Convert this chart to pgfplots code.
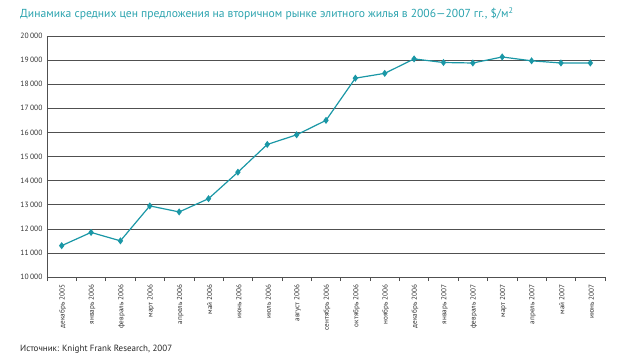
\documentclass[border=0pt]{standalone}
\usepackage{pgfplots}
\pgfplotsset{compat=1.18}
\usepackage{fontspec}
\setmainfont{PT Sans}
\definecolor{teal1}{HTML}{1A97A6}
\definecolor{titlec}{HTML}{2BA3AE}
\definecolor{gridc}{HTML}{505050}
\begin{document}
\begin{tikzpicture}[x=1pt,y=1pt]
\useasboundingbox (0,0) rectangle (623,362);
\node[anchor=west,inner sep=0pt,text=titlec,font=\fontsize{11.6}{13}\selectfont] at (20,348) {Динамика средних цен предложения на вторичном рынке элитного жилья в 2006—2007 гг., \$/м\textsuperscript{2}};
\node[anchor=west,inner sep=0pt,font=\fontsize{9}{10}\selectfont,text=black!85] at (20,13) {Источник: Knight Frank Research, 2007};
\begin{axis}[
  at={(47pt,85pt)}, anchor=south west,
  scale only axis, width=558pt, height=241pt,
  xmin=-0.5, xmax=18.5, ymin=10000, ymax=20000,
  axis x line*=bottom, axis y line*=left,
  axis line style={-, gridc, line width=0.6pt},
  ytick={10000,11000,...,20000},
  ymajorgrids, grid style={gridc, line width=0.6pt},
  major y tick style={draw=none},
  xtick={0,...,18},
  major x tick style={draw=none},
  minor xtick={-0.5,0.5,...,18.5},
  minor x tick style={gridc, line width=0.6pt},
  minor tick length=4pt,
  xtick align=outside,
  xticklabels={декабрь 2005,январь 2006,февраль 2006,март 2006,апрель 2006,май 2006,июнь 2006,июль 2006,август 2006,сентябрь 2006,октябрь 2006,ноябрь 2006,декабрь 2006,январь 2007,февраль 2007,март 2007,апрель 2007,май 2007,июнь 2007},
  xticklabel style={rotate=90, anchor=east, font=\fontsize{7.2}{8}\selectfont, text=black!80, yshift=-1pt},
  yticklabel style={font=\fontsize{7.6}{8}\selectfont, text=black!80, xshift=-1pt},
  /pgf/number format/assume math mode=true,
  /pgf/number format/1000 sep={\,},
  scaled y ticks=false,
  clip=false,
]
\addplot[teal1, line width=1.2pt, mark=diamond*, mark size=2.6pt, mark options={fill=teal1, draw=teal1}] coordinates {
(0,11300) (1,11850) (2,11500) (3,12950) (4,12700) (5,13250) (6,14350) (7,15500) (8,15900) (9,16500) (10,18250) (11,18450) (12,19050) (13,18900) (14,18880) (15,19130) (16,18970) (17,18880) (18,18880)
};
\end{axis}
\end{tikzpicture}
\end{document}
